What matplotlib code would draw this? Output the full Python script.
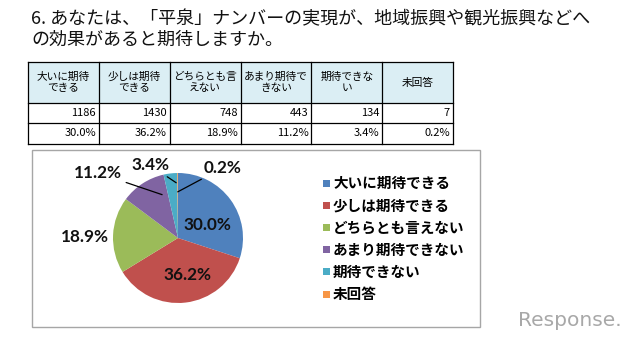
import matplotlib
matplotlib.use('Agg')
import matplotlib.pyplot as plt
from matplotlib.patches import Rectangle
import numpy as np

plt.rcParams['font.family'] = ['Noto Sans CJK JP', 'DejaVu Sans']

title_lines = ["6. あなたは、「平泉」ナンバーの実現が、地域振興や観光振興などへ",
               "の効果があると期待しますか。"]
categories = ["大いに期待できる", "少しは期待できる", "どちらとも言えない",
              "あまり期待できない", "期待できない", "未回答"]
header_labels = ["大いに期待\nできる", "少しは期待\nできる", "どちらとも言\nえない",
                 "あまり期待で\nきない", "期待できな\nい", "未回答"]
counts = [1186, 1430, 748, 443, 134, 7]
percents = [30.0, 36.2, 18.9, 11.2, 3.4, 0.2]
colors = ['#4F81BD', '#C0504D', '#9BBB59', '#8064A2', '#4BACC6', '#F79646']

W, H = 640, 342
fig = plt.figure(figsize=(6.4, 3.42), dpi=100)
fig.patch.set_facecolor('white')
bg = fig.add_axes([0, 0, 1, 1])
bg.set_xlim(0, W)
bg.set_ylim(H, 0)
bg.axis('off')

# Title
bg.text(31, 19, title_lines[0], fontsize=13, va='center', ha='left', color='#111111')
bg.text(31, 40, title_lines[1], fontsize=13, va='center', ha='left', color='#111111')

# Table
tx0, tx1 = 28, 453
ncol = len(categories)
col_w = (tx1 - tx0) / ncol
row_y = [62, 103, 123, 144]
bg.add_patch(Rectangle((tx0, row_y[0]), tx1 - tx0, row_y[1] - row_y[0],
                       facecolor='#DBEEF4', edgecolor='none', zorder=1))
for k in range(ncol + 1):
    x = tx0 + k * col_w
    bg.plot([x, x], [row_y[0], row_y[-1]], color='black', lw=0.9, zorder=2)
for y in row_y:
    bg.plot([tx0, tx1], [y, y], color='black', lw=0.9, zorder=2)
for i in range(ncol):
    xc = tx0 + (i + 0.5) * col_w
    xr = tx0 + (i + 1) * col_w - 3
    bg.text(xc, (row_y[0] + row_y[1]) / 2, header_labels[i], fontsize=7.7,
            ha='center', va='center', linespacing=1.1, zorder=3)
    bg.text(xr, (row_y[1] + row_y[2]) / 2, f"{counts[i]}", fontsize=8,
            ha='right', va='center', zorder=3)
    bg.text(xr, (row_y[2] + row_y[3]) / 2, f"{percents[i]:.1f}%", fontsize=8,
            ha='right', va='center', zorder=3)

# Chart box
bg.add_patch(Rectangle((32, 150), 448, 177, fill=False, edgecolor='#A6A6A6', lw=1.0))

# Pie
cx, cy, r = 178, 238, 65
ax = fig.add_axes([(cx - r) / W, (H - cy - r) / H, 2 * r / W, 2 * r / H])
wedges, _ = ax.pie(counts, colors=colors, startangle=90, counterclock=False,
                   radius=1, wedgeprops=dict(linewidth=0))
ax.set_xlim(-1, 1)
ax.set_ylim(-1, 1)
ax.axis('off')

label_pos = [(0.46, 0.20), (0.14, -0.57), (-1.43, 0.02),
             (-1.23, 1.00), (-0.43, 1.12), (0.69, 1.08)]
leader = [False, False, False, True, True, True]
tip_frac = [0.5, 0.5, 0.5, 0.82, 0.9, 0.5]
tip_r = [0, 0, 0, 0.71, 0.85, 0.71]
for i, w in enumerate(wedges):
    txt = f"{percents[i]:.1f}%"
    if leader[i]:
        a1, a2 = w.theta1, w.theta2
        ang = np.deg2rad(a2 - tip_frac[i] * (a2 - a1))
        tip = (tip_r[i] * np.cos(ang), tip_r[i] * np.sin(ang))
        ax.annotate(txt, xy=tip, xytext=label_pos[i], ha='center', va='center',
                    fontsize=12.3, fontweight='bold', family='Lato', color='#111111',
                    arrowprops=dict(arrowstyle='-', color='black', lw=0.9,
                                    shrinkA=1, shrinkB=0))
    else:
        ax.text(label_pos[i][0], label_pos[i][1], txt, ha='center', va='center',
                fontsize=12.3, fontweight='bold', family='Lato', color='#111111')

# Legend
for i, lab in enumerate(categories):
    y = 183 + i * 22.2
    bg.add_patch(Rectangle((323, y - 3.5), 7, 7, facecolor=colors[i], edgecolor='none'))
    bg.text(333, y, lab, fontsize=10.5, fontweight='bold', ha='left', va='center')

# Watermark
bg.text(570, 320, "Response.", color='#A8A8A8', fontsize=14.5, ha='center', va='center',
        family='DejaVu Sans')

fig.savefig('out.png', dpi=100, facecolor='white')
